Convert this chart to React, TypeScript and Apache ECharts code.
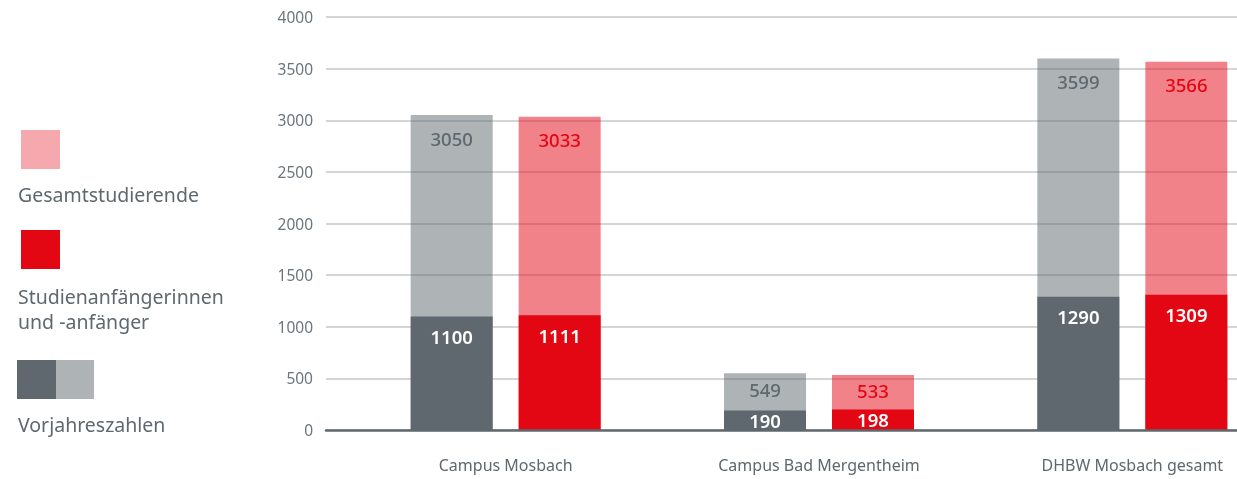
import React, { useEffect, useRef } from "react";
import * as echarts from "echarts";

const categories = ["Campus Mosbach", "Campus Bad Mergentheim", "DHBW Mosbach gesamt"];
const prevTotal = [3050, 549, 3599];
const currTotal = [3033, 533, 3566];
const prevBeginners = [1100, 190, 1290];
const currBeginners = [1111, 198, 1309];
const yTicks = [0, 500, 1000, 1500, 2000, 2500, 3000, 3500, 4000];

const DARK = "#5e686e";
const DARK_LIGHT = "rgba(94,104,110,0.5)";
const RED = "#e30613";
const RED_LIGHT = "rgba(227,6,19,0.5)";
const FONT = "Noto Sans";

export default function App() {
  const ref = useRef<HTMLDivElement>(null);
  useEffect(() => {
    const chart = echarts.init(ref.current!, null, { renderer: "svg" });
    const top = 17;
    const height = 413;
    const barWidth = 82;
    const barGap = "31.7%";
    const darkItems = (vals: number[]) =>
      vals.map((v) => (v < 400 ? { value: v, label: { position: "inside" } } : v));
    const lightItems = (vals: number[]) =>
      vals.map((v) => (v < 1000 ? { value: v, label: { distance: 6 } } : v));
    const lightLabel = (color: string) => ({
      show: true,
      position: "insideTop",
      distance: 13,
      color,
      fontFamily: FONT,
      fontSize: 18.5,
      fontWeight: 500,
      lineHeight: 20,
    });
    const darkLabel = {
      show: true,
      position: "insideTop",
      distance: 10,
      color: "#ffffff",
      fontFamily: FONT,
      fontSize: 18.5,
      fontWeight: 600,
      lineHeight: 20,
    };
    const legendText = (text: string, y: number) => ({
      type: "text",
      x: 18,
      y,
      style: { text, fill: DARK, font: `19.5px "${FONT}"`, verticalAlign: "middle", textVerticalAlign: "middle" },
    });
    chart.setOption({
      animation: false,
      grid: [
        { left: 326, width: 911, top, height },
        { left: 349, width: 940, top, height },
      ],
      xAxis: [
        {
          type: "category",
          gridIndex: 0,
          data: categories,
          axisLine: { show: true, lineStyle: { color: DARK, width: 2.5 } },
          axisTick: { show: false },
          axisLabel: { show: false },
          z: 5,
        },
        {
          type: "category",
          gridIndex: 1,
          data: categories,
          axisLine: { show: false },
          axisTick: { show: false },
          axisLabel: { color: DARK, fontFamily: FONT, fontSize: 16, margin: 27 },
        },
        {
          type: "category",
          gridIndex: 1,
          data: categories,
          show: false,
        },
      ],
      yAxis: [
        {
          type: "value",
          gridIndex: 0,
          min: yTicks[0],
          max: yTicks[yTicks.length - 1],
          interval: 500,
          axisLine: { show: false },
          axisTick: { show: false },
          axisLabel: {
            color: "#6b757b",
            fontFamily: FONT,
            fontSize: 15.5,
            margin: 13,
            formatter: (v: number) => String(v),
          },
          splitLine: { lineStyle: { color: "#c5c9cc", width: 1.5 } },
        },
        {
          type: "value",
          gridIndex: 1,
          min: yTicks[0],
          max: yTicks[yTicks.length - 1],
          interval: 500,
          show: false,
          splitLine: { show: false },
        },
      ],
      series: [
        {
          type: "bar",
          xAxisIndex: 1,
          yAxisIndex: 1,
          data: lightItems(prevTotal),
          barWidth,
          barGap,
          itemStyle: { color: DARK_LIGHT },
          label: lightLabel(DARK),
          z: 2,
        },
        {
          type: "bar",
          xAxisIndex: 1,
          yAxisIndex: 1,
          data: lightItems(currTotal),
          barWidth,
          barGap,
          itemStyle: { color: RED_LIGHT },
          label: lightLabel(RED),
          z: 2,
        },
        {
          type: "bar",
          xAxisIndex: 2,
          yAxisIndex: 1,
          data: darkItems(prevBeginners),
          barWidth,
          barGap,
          itemStyle: { color: DARK },
          label: darkLabel,
          z: 3,
        },
        {
          type: "bar",
          xAxisIndex: 2,
          yAxisIndex: 1,
          data: darkItems(currBeginners),
          barWidth,
          barGap,
          itemStyle: { color: RED },
          label: darkLabel,
          z: 3,
        },
      ],
      graphic: [
        { type: "rect", shape: { x: 21, y: 130, width: 39, height: 39 }, style: { fill: RED, opacity: 0.35 } },
        legendText("Gesamtstudierende", 194),
        { type: "rect", shape: { x: 21, y: 230, width: 39, height: 39 }, style: { fill: RED } },
        legendText("Studienanfängerinnen", 296),
        legendText("und -anfänger", 321),
        { type: "rect", shape: { x: 17, y: 360, width: 39, height: 39 }, style: { fill: DARK } },
        { type: "rect", shape: { x: 56, y: 360, width: 38, height: 39 }, style: { fill: DARK_LIGHT } },
        legendText("Vorjahreszahlen", 424),
      ],
    });
    return () => chart.dispose();
  }, []);
  return (
    <div style={{ position: "fixed", left: 0, top: 0, width: 1237, height: 479, overflow: "hidden" }}>
      <div ref={ref} style={{ width: 1300, height: 479 }} />
    </div>
  );
}
